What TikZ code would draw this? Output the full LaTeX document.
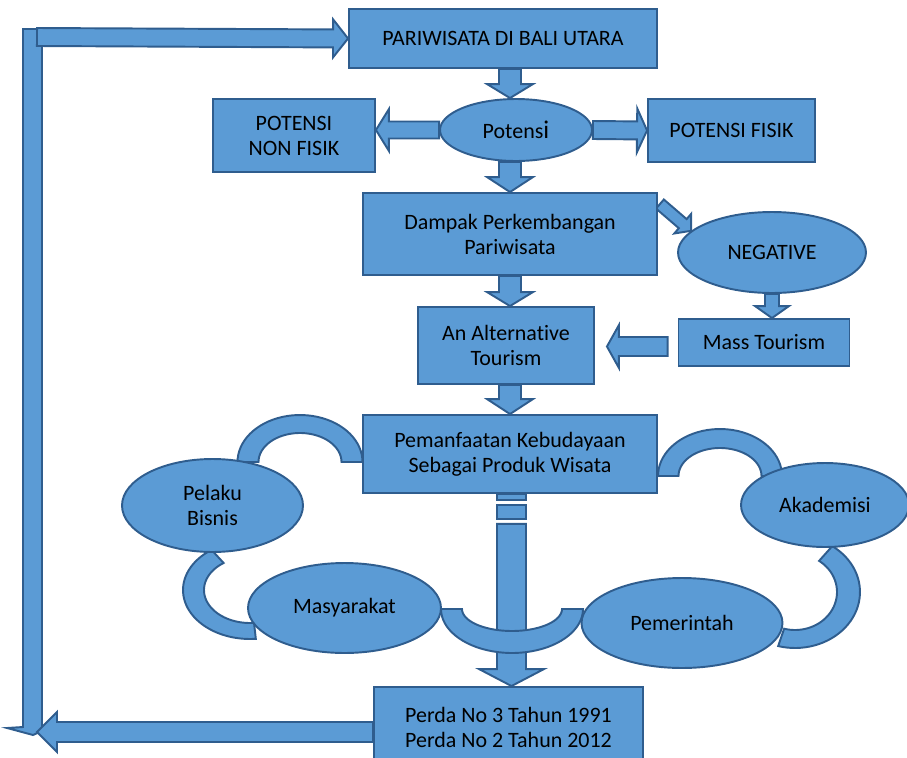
\documentclass[tikz,border=0pt]{standalone}
\usepackage{fontspec}
\setmainfont{Carlito}[Ligatures=NoCommon]
\usetikzlibrary{calc, shapes.geometric}
\definecolor{boxfill}{HTML}{5B9BD5}
\definecolor{boxline}{HTML}{2F5D8E}
\pgfdeclarelayer{background}
\pgfsetlayers{background,main}
\tikzset{
  blk/.style={fill=boxfill, draw=boxline, line width=1.1pt},
  box/.style={blk, rectangle, align=center, inner sep=2pt, font=\fontsize{12.5}{14.2}\selectfont},
  oval/.style={blk, ellipse, align=center, inner sep=0pt, font=\fontsize{12.5}{14.2}\selectfont}
}
% block arrow: tail, tip, half shaft, half head, head length
\newcommand{\blockarrow}[5]{%
  \path (#1) coordinate (ba-s) (#2) coordinate (ba-t);
  \path ($(ba-t)!#5!(ba-s)$) coordinate (ba-h);
  \draw[blk] ($(ba-s)!#3!90:(ba-t)$) -- ($(ba-h)!#3!90:(ba-t)$) -- ($(ba-h)!#4!90:(ba-t)$) -- (ba-t)
    -- ($(ba-h)!#4!-90:(ba-t)$) -- ($(ba-h)!#3!-90:(ba-t)$) -- ($(ba-s)!#3!-90:(ba-t)$) -- cycle;
}

\begin{document}
\begin{tikzpicture}[x=0.02cm, y=-0.02cm]
\useasboundingbox (0,0) rectangle (907,758);

\node[box, minimum width=6.16cm, minimum height=1.18cm] (pari) at (503,38.5) {PARIWISATA DI BALI UTARA};
\node[oval, minimum width=3.04cm, minimum height=1.24cm] (pot) at (516,130) {Potens{\fontsize{14.5}{14}\selectfont i}};
\node[box, minimum width=3.24cm, minimum height=1.46cm] (nonfisik) at (294,135.5) {POTENSI\\NON FISIK};
\node[box, minimum width=3.34cm, minimum height=1.26cm] (fisik) at (731.5,130.5) {POTENSI FISIK};
\node[box, minimum width=5.88cm, minimum height=1.64cm] (dampak) at (510,234) {Dampak Perkembangan\\Pariwisata};
\node[oval, minimum width=3.76cm, minimum height=1.62cm] (neg) at (772,252.5) {NEGATIVE};
\node[box, minimum width=3.42cm, minimum height=0.94cm] (mass) at (764,342.5) {Mass Tourism};
\node[box, minimum width=3.52cm, minimum height=1.54cm] (alt) at (506,345.5) {An Alternative\\Tourism};
\node[box, minimum width=5.88cm, minimum height=1.56cm] (pem) at (510,454) {Pemanfaatan Kebudayaan\\Sebagai Produk Wisata};
\node[oval, minimum width=3.62cm, minimum height=1.86cm] (pelaku) at (212.5,505.5) {Pelaku\\Bisnis};
\node[oval, minimum width=3.36cm, minimum height=1.68cm] (akad) at (825,505) {Akademisi};
\node[oval, minimum width=3.86cm, minimum height=1.80cm] (masy) at (344.5,608) {Masyarakat};
\node[oval, minimum width=4.02cm, minimum height=1.80cm] (pemer) at (682,623) {Pemerintah};
\node[box, minimum width=5.38cm, minimum height=1.60cm] (perda) at (508.5,727) {Perda No 3 Tahun 1991\\Perda No 2 Tahun 2012};

\coordinate (bartop) at (37,37);
\coordinate (barbot) at (37,732);

\begin{pgfonlayer}{background}
% return bar on the left
\draw[blk] (23,29) -- (42,29) -- (42,731) -- (33,735) -- (7,728) -- (23,727) -- cycle;

% block arcs round the cycle
\draw[blk] plot[domain=0:180, samples=40, variable=\x] ({300+62.5*cos(\x)},{462-47*sin(\x)})
  -- plot[domain=180:0, samples=40, variable=\x] ({300+41.5*cos(\x)},{462-29*sin(\x)}) -- cycle;
\draw[blk] plot[domain=0:180, samples=40, variable=\x] ({720+62*cos(\x)},{476-47*sin(\x)})
  -- plot[domain=180:0, samples=40, variable=\x] ({720+41.5*cos(\x)},{476-28*sin(\x)}) -- cycle;
\draw[blk] plot[domain=125:275, samples=40, variable=\x] ({250+67*cos(\x)},{590-49*sin(\x)})
  -- plot[domain=275:125, samples=40, variable=\x] ({250+46*cos(\x)},{590-33*sin(\x)}) -- cycle;
\draw[blk] plot[domain=-105:55, samples=40, variable=\x] ({795+65*cos(\x)},{592-56*sin(\x)})
  -- plot[domain=55:-105, samples=40, variable=\x] ({795+42*cos(\x)},{592-38*sin(\x)}) -- cycle;

% striped shaft down to Perda
\draw[blk] ($(pem.south)+(-13,0)$) rectangle ($(pem.south)+(16,6)$);
\draw[blk] ($(pem.south)+(-13,11)$) rectangle ($(pem.south)+(16,25)$);
\blockarrow{$(pem.south)+(1.5,30)$}{$(perda.north)+(3,0)$}{0.29cm}{0.65cm}{0.34cm}

\draw[blk] plot[domain=180:360, samples=40, variable=\x] ({512+71*cos(\x)},{609-44*sin(\x)})
  -- plot[domain=360:180, samples=40, variable=\x] ({512+50*cos(\x)},{609-22*sin(\x)}) -- cycle;

% arrows
\blockarrow{bartop}{pari.west}{0.18cm}{0.38cm}{0.3cm}
\blockarrow{$(pari.south)+(7,0)$}{dampak.center |- pot.north}{0.22cm}{0.46cm}{0.28cm}
\blockarrow{dampak.north |- pot.south}{dampak.north}{0.22cm}{0.46cm}{0.3cm}
\blockarrow{pot.east}{fisik.west}{0.18cm}{0.44cm}{0.2cm}
\blockarrow{pot.west}{nonfisik.east |- pot.west}{0.17cm}{0.42cm}{0.26cm}
\blockarrow{dampak.south}{dampak.south |- alt.north}{0.22cm}{0.46cm}{0.28cm}
\blockarrow{$(dampak.north east)+(2,12)$}{neg.165}{0.12cm}{0.26cm}{0.22cm}
\blockarrow{neg.south}{neg.south |- mass.north}{0.14cm}{0.34cm}{0.24cm}
\blockarrow{$(mass.west)+(-10,4)$}{$(alt.east)+(12,1)$}{0.19cm}{0.43cm}{0.24cm}
\blockarrow{pem.north |- alt.south}{pem.north}{0.22cm}{0.46cm}{0.3cm}
\blockarrow{$(perda.west)+(0,5)$}{barbot}{0.2cm}{0.4cm}{0.4cm}
\end{pgfonlayer}
\end{tikzpicture}
\end{document}
